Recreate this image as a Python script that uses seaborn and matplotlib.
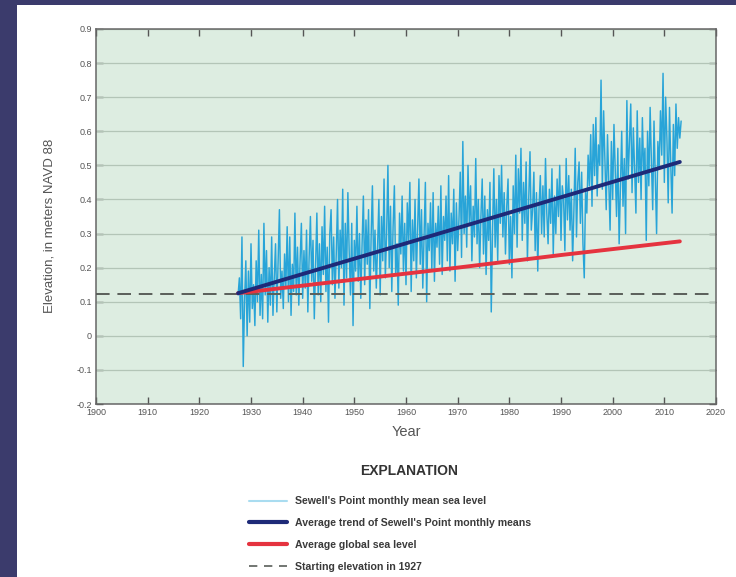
import numpy as np
import pandas as pd
import matplotlib.pyplot as plt
import matplotlib.patches as mpatches
from matplotlib.lines import Line2D
import seaborn as sns

# Sewell's Point monthly mean sea level (4 samples per year from 1927.5)
start_year = 1927.5
step = 0.25
sea_level = [
    0.12, 0.17, 0.05, 0.29,
    -0.09, 0.10, 0.22, 0.00,
    0.19, 0.04, 0.27, 0.08,
    0.15, 0.03, 0.22, 0.10,
    0.31, 0.06, 0.18, 0.05,
    0.33, 0.12, 0.25, 0.04,
    0.20, 0.09, 0.29, 0.06,
    0.17, 0.27, 0.07, 0.22,
    0.37, 0.11, 0.19, 0.08,
    0.24, 0.14, 0.32, 0.10,
    0.29, 0.06, 0.21, 0.13,
    0.36, 0.12, 0.26, 0.09,
    0.22, 0.33, 0.11, 0.25,
    0.14, 0.31, 0.07, 0.23,
    0.35, 0.16, 0.28, 0.05,
    0.21, 0.36, 0.12, 0.27,
    0.10, 0.32, 0.18, 0.38,
    0.13, 0.26, 0.04, 0.30,
    0.37, 0.15, 0.29, 0.11,
    0.24, 0.40, 0.14, 0.31,
    0.20, 0.43, 0.09, 0.33,
    0.17, 0.42, 0.25, 0.12,
    0.33, 0.03, 0.28, 0.19,
    0.38, 0.16, 0.30, 0.11,
    0.27, 0.41, 0.15, 0.34,
    0.21, 0.37, 0.08, 0.29,
    0.44, 0.19, 0.31, 0.14,
    0.26, 0.40, 0.12, 0.35,
    0.22, 0.46, 0.17, 0.30,
    0.50, 0.20, 0.38, 0.13,
    0.32, 0.44, 0.18, 0.27,
    0.09, 0.36, 0.24, 0.41,
    0.19, 0.33, 0.15, 0.39,
    0.28, 0.45, 0.13, 0.34,
    0.22, 0.40, 0.17, 0.31,
    0.46, 0.21, 0.37, 0.14,
    0.30, 0.45, 0.10, 0.33,
    0.25, 0.39, 0.19, 0.42,
    0.16, 0.33, 0.26, 0.38,
    0.21, 0.44, 0.18, 0.35,
    0.28, 0.41, 0.22, 0.47,
    0.19, 0.36, 0.27, 0.43,
    0.16, 0.39, 0.25, 0.34,
    0.48, 0.23, 0.57, 0.30,
    0.41, 0.26, 0.50, 0.33,
    0.44, 0.22, 0.38, 0.29,
    0.52, 0.27, 0.40, 0.20,
    0.35, 0.46, 0.24, 0.41,
    0.18, 0.37, 0.28, 0.45,
    0.07, 0.31, 0.49, 0.26,
    0.40, 0.22, 0.47, 0.33,
    0.50, 0.29, 0.42, 0.24,
    0.38, 0.46, 0.21, 0.35,
    0.17, 0.44, 0.30, 0.53,
    0.26, 0.49, 0.36, 0.55,
    0.28, 0.45, 0.33, 0.51,
    0.22, 0.40, 0.54, 0.31,
    0.37, 0.48, 0.25, 0.42,
    0.19, 0.38, 0.47, 0.30,
    0.44, 0.29, 0.52, 0.36,
    0.27, 0.43, 0.33, 0.49,
    0.24, 0.41, 0.30, 0.46,
    0.35, 0.50, 0.28, 0.44,
    0.40, 0.25, 0.52, 0.34,
    0.47, 0.31, 0.43, 0.22,
    0.37, 0.55, 0.29, 0.45,
    0.51, 0.33, 0.48, 0.27,
    0.17, 0.42, 0.36, 0.53,
    0.44, 0.59, 0.38, 0.62,
    0.47, 0.64, 0.41, 0.56,
    0.50, 0.75, 0.43, 0.66,
    0.52, 0.37, 0.59, 0.45,
    0.31, 0.57, 0.40, 0.62,
    0.48, 0.35, 0.55, 0.27,
    0.44, 0.60, 0.38, 0.52,
    0.30, 0.69, 0.46, 0.57,
    0.68, 0.42, 0.61, 0.49,
    0.36, 0.66, 0.45, 0.58,
    0.40, 0.64, 0.48, 0.55,
    0.28, 0.60, 0.44, 0.67,
    0.51, 0.37, 0.63, 0.46,
    0.30, 0.57, 0.49, 0.66,
    0.53, 0.77, 0.45, 0.70,
    0.58, 0.39, 0.67, 0.50,
    0.36, 0.62, 0.47, 0.68,
    0.55, 0.64, 0.58, 0.63,
]
years = start_year + step * np.arange(len(sea_level))

trend_years = [1927.5, 2013.0]
trend_vals = [0.125, 0.51]

global_years = [1927.5, 1950, 1970, 1990, 2013]
global_vals = [0.125, 0.165, 0.200, 0.237, 0.277]

start_elev = 0.122

x_ticks = [1900, 1910, 1920, 1930, 1940, 1950, 1960, 1970, 1980, 1990, 2000, 2010, 2020]
y_ticks = [-0.2, -0.1, 0, 0.1, 0.2, 0.3, 0.4, 0.5, 0.6, 0.7, 0.8, 0.9]
y_labels = ['-0.2', '-0.1', '0', '0.1', '0.2', '0.3', '0.4', '0.5', '0.6', '0.7', '0.8', '0.9']

legend_labels = [
    "Sewell's Point monthly mean sea level",
    "Average trend of Sewell's Point monthly means",
    "Average global sea level",
    "Starting elevation in 1927",
]

sns.set_style('ticks')
plt.rcParams['font.family'] = ['Liberation Sans', 'DejaVu Sans']

c_month = '#28a4d8'
c_trend = '#1e2a78'
c_global = '#e5333f'
c_dash = '#5a5f5a'
c_text = '#555555'

fig = plt.figure(figsize=(7.36, 5.77), dpi=100)
fig.patch.set_facecolor('#3b3b6c')
fig.patches.append(mpatches.Rectangle((17 / 736, 0), 1, 1 - 5 / 577,
                                      transform=fig.transFigure,
                                      facecolor='white', edgecolor='none', zorder=-10))

ax = fig.add_axes([96 / 736, 1 - 404 / 577, 620 / 736, 375 / 577])
ax.set_zorder(5)
ax.set_facecolor('#ddede1')

for v in y_ticks:
    ax.axhline(v, color='#b3c5b7', lw=0.9, zorder=1)

df = pd.DataFrame({'year': years, 'level': sea_level})
sns.lineplot(data=df, x='year', y='level', ax=ax, color=c_month, lw=1.05, zorder=2)
ax.axhline(start_elev, color=c_dash, lw=1.4, dashes=(7, 4), zorder=3)
sns.lineplot(x=global_years, y=global_vals, ax=ax, color=c_global, lw=2.8, zorder=4)
sns.lineplot(x=trend_years, y=trend_vals, ax=ax, color=c_trend, lw=2.8, zorder=5)

ax.set_xlim(1900, 2020)
ax.set_ylim(-0.2, 0.9)
ax.set_xticks(x_ticks)
ax.set_xticklabels([str(x) for x in x_ticks], fontsize=6.5, color=c_text)
ax.set_yticks(y_ticks)
ax.set_yticklabels(y_labels, fontsize=6.5, color=c_text)
ax.tick_params(direction='in', length=5, width=1, colors='#555555', labelcolor=c_text,
               top=True, right=True, pad=3)
for s in ax.spines.values():
    s.set_color('#666666')
    s.set_linewidth(1.1)

ax.set_xlabel('Year', fontsize=10.5, color=c_text, labelpad=6)
ax.set_ylabel('Elevation, in meters NAVD 88', fontsize=9.5, color=c_text)
ax.yaxis.set_label_coords(-0.065, 0.475)

fig.text(409 / 736, 1 - 471 / 577, 'EXPLANATION', ha='center', va='center',
         fontsize=10, fontweight='bold', color='#333333')

handles = [
    Line2D([0], [0], color='#a9dcf0', lw=1.5),
    Line2D([0], [0], color=c_trend, lw=3),
    Line2D([0], [0], color=c_global, lw=3),
    Line2D([0], [0], color=c_dash, lw=1.2, dashes=(5, 4)),
]
leg = fig.legend(handles, legend_labels, loc='upper left',
                 bbox_to_anchor=(245 / 736, 1 - 492 / 577), frameon=False,
                 fontsize=7.6, handlelength=3.6, handletextpad=0.7,
                 labelspacing=1.12, borderaxespad=0)
for t in leg.get_texts():
    t.set_fontweight('bold')
    t.set_color('#3a3a3a')

plt.savefig('out.png', dpi=100, facecolor=fig.get_facecolor())
